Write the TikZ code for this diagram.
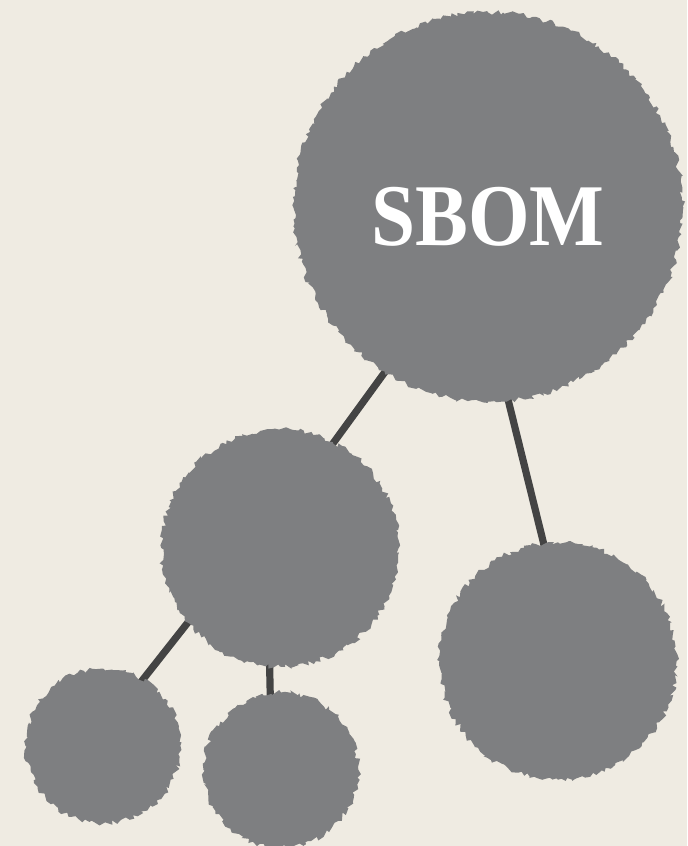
\documentclass[tikz,border=0pt]{standalone}
\usepackage{fontspec}
\setmainfont{Liberation Serif}
\usetikzlibrary{decorations.pathmorphing}
\usetikzlibrary{backgrounds}
\definecolor{paper}{HTML}{EFEBE2}
\definecolor{blobgray}{HTML}{7E7F81}
\definecolor{stem}{HTML}{444444}

\begin{document}
\pgfmathsetseed{4711}
\begin{tikzpicture}[x=0.75pt,y=-0.75pt,
        blob/.style={circle,fill=blobgray,inner sep=0pt,decorate,decoration={random steps,segment length=2.5pt,amplitude=2pt}},
        big/.style={blob,minimum size=292pt},
        mid/.style={blob,minimum size=178pt},
        small/.style={blob,minimum size=116pt},
        link/.style={draw=stem,line width=5.4pt,shorten <=-10pt,shorten >=-10pt}
      ]
      \useasboundingbox (0,0) rectangle (687,846);
      \node[big,text height=58pt,text depth=0pt] (sbom) at (488,207) {\scalebox{0.9}[1]{\fontsize{66}{66}\selectfont\bfseries\color{white}SBOM}};
      \node[mid] (left) at (280,548) {};
      \node[mid] (right) at (558,661) {};
      \node[small] (leftleft) at (103,746) {};
      \node[small] (leftright) at (281,770) {};
      \begin{pgfonlayer}{background}
        \fill[paper] (0,0) rectangle (687,846);
        \draw[link] (sbom.238) -- (left.63);
        \draw[link] (sbom.276) -- (right.97);
        \draw[link] (left.219) -- (leftleft.59);
        \draw[link] (left.265) -- (leftright.98);
      \end{pgfonlayer}
    \end{tikzpicture}
\end{document}
